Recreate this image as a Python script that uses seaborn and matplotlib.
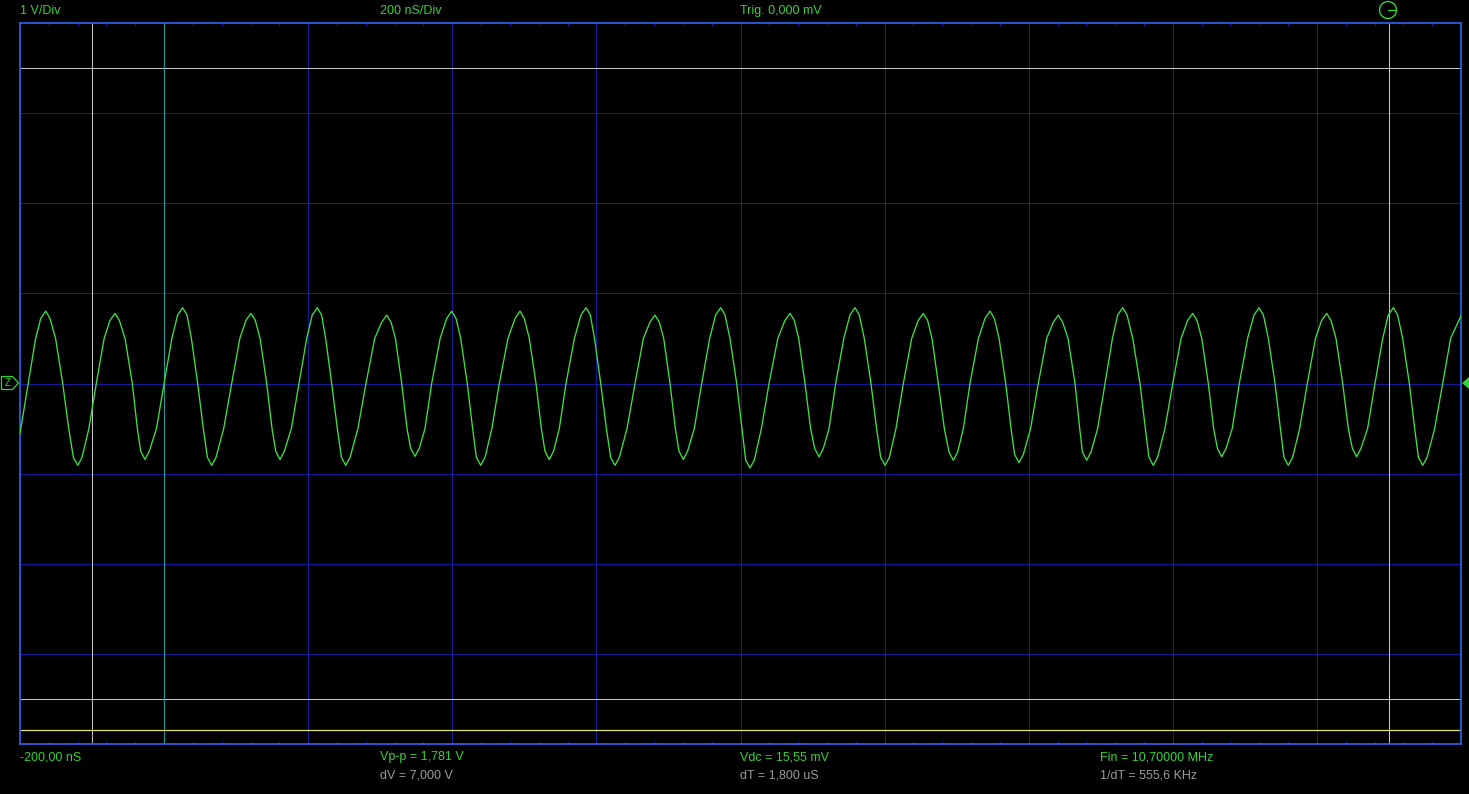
import numpy as np
import pandas as pd
import matplotlib
matplotlib.use("Agg")
import matplotlib.pyplot as plt
import seaborn as sns
from matplotlib.patches import Circle, Polygon
from matplotlib.ticker import MultipleLocator

# ---------------- data (read from the screen) ----------------
# time axis: 200 ns/div, 10 divisions starting at -200 ns ; vertical: 1 V/div, 8 divisions
x_range_ns = [-200, 1800]
y_range_v = [-4, 4]

# trace key points (ns, V)
start_t, start_v = [-200.0], [-0.556]
end_t, end_v = [1800.0], [0.752]
zero_t = [-188.5, -140.7, -94.1, -44.1, 0.0, 46.6, 93.8, 142.4, 187.2, 232.6,
          280.2, 329.8, 371.4, 420.8, 465.2, 516.2, 557.8, 606.0, 653.6, 702.2,
          746.1, 794.7, 839.6, 889.5, 932.1, 981.1, 1026.0, 1074.5, 1118.5, 1168.1,
          1213.3, 1264.3, 1305.9, 1354.5, 1399.9, 1449.3, 1492.3, 1541.9, 1586.7,
          1635.8, 1680.6, 1728.3, 1774.6]
peak_t = [-164.3, -68.1, 25.8, 120.6, 212.6, 309.0, 399.2, 494.0, 585.6, 681.3,
          772.5, 868.7, 958.9, 1053.7, 1146.3, 1241.1, 1330.5, 1427.6, 1519.7,
          1613.6, 1706.1]
peak_v = [0.803, 0.778, 0.841, 0.778, 0.841, 0.759, 0.803, 0.803, 0.841, 0.759,
          0.841, 0.778, 0.841, 0.778, 0.803, 0.759, 0.841, 0.778, 0.841, 0.778, 0.841]
trough_t = [-119.9, -26.5, 66.1, 160.9, 252.1, 348.2, 439.4, 534.6, 625.8, 720.6,
            813.2, 909.0, 1000.6, 1095.4, 1186.5, 1280.5, 1372.9, 1467.9, 1560.3,
            1655.2, 1746.9]
trough_v = [-0.908, -0.844, -0.908, -0.844, -0.908, -0.808, -0.908, -0.844, -0.908,
            -0.844, -0.937, -0.814, -0.908, -0.852, -0.878, -0.852, -0.908, -0.814,
            -0.908, -0.814, -0.908]
# times where the trace passes +0.5 V and -0.5 V
half_hi_t = [-178.3, -150.6, -83.2, -54.2, 10.8, 37.9, 105.1, 133.2, 197.9, 224.2,
             292.3, 321.1, 383.1, 411.7, 477.3, 506.9, 569.5, 597.4, 665.2, 693.4,
             757.2, 785.4, 851.8, 880.8, 943.4, 971.8, 1037.6, 1065.8, 1130.2, 1158.9,
             1225.0, 1254.6, 1316.2, 1344.4, 1411.5, 1440.2, 1503.8, 1532.6, 1598.0,
             1626.5, 1691.3, 1719.0, 1785.6]
half_lo_t = [-132.4, -104.4, -37.1, -10.6, 54.4, 82.7, 149.8, 176.7, 240.4, 269.0,
             337.2, 362.1, 428.2, 454.9, 523.6, 548.5, 613.9, 642.5, 709.6, 735.9,
             802.1, 829.0, 897.3, 922.9, 988.9, 1015.8, 1082.9, 1109.3, 1175.5, 1202.6,
             1270.8, 1295.7, 1361.9, 1389.1, 1456.7, 1482.5, 1549.3, 1576.1, 1643.6,
             1670.4, 1735.7, 1763.5]
half_level_v = 0.5
# shoulder points near the crests (rounded tops)
peak_shoulder_t = [-171.3, -158.3, -75.1, -62.1, 18.8, 31.8, 113.6, 126.6, 205.6, 218.6,
                   302.0, 315.0, 392.2, 405.2, 487.0, 500.0, 578.6, 591.6, 674.3, 687.3,
                   765.5, 778.5, 861.7, 874.7, 951.9, 964.9, 1046.7, 1059.7, 1139.3, 1152.3,
                   1234.1, 1247.1, 1323.5, 1336.5, 1420.6, 1433.6, 1512.7, 1525.7,
                   1606.6, 1619.6, 1699.1, 1712.1]
peak_shoulder_v = [0.72, 0.72, 0.70, 0.70, 0.76, 0.76, 0.70, 0.70, 0.76, 0.76,
                   0.68, 0.68, 0.72, 0.72, 0.72, 0.72, 0.76, 0.76, 0.68, 0.68,
                   0.76, 0.76, 0.70, 0.70, 0.76, 0.76, 0.70, 0.70, 0.72, 0.72,
                   0.68, 0.68, 0.76, 0.76, 0.70, 0.70, 0.76, 0.76, 0.70, 0.70, 0.76, 0.76]
trough_shoulder_t = [-125.9, -113.9, -32.5, -20.5, 60.1, 72.1, 154.9, 166.9, 246.1, 258.1,
                     342.2, 354.2, 433.4, 445.4, 528.6, 540.6, 619.8, 631.8, 714.6, 726.6,
                     807.2, 819.2, 903.0, 915.0, 994.6, 1006.6, 1089.4, 1101.4, 1180.5, 1192.5,
                     1274.5, 1286.5, 1366.9, 1378.9, 1461.9, 1473.9, 1554.3, 1566.3,
                     1649.2, 1661.2, 1740.9, 1752.9]
trough_shoulder_v = [-0.82, -0.82, -0.75, -0.75, -0.82, -0.82, -0.75, -0.75, -0.82, -0.82,
                     -0.72, -0.72, -0.82, -0.82, -0.75, -0.75, -0.82, -0.82, -0.75, -0.75,
                     -0.85, -0.85, -0.72, -0.72, -0.82, -0.82, -0.76, -0.76, -0.79, -0.79,
                     -0.76, -0.76, -0.82, -0.82, -0.72, -0.72, -0.82, -0.82, -0.72, -0.72,
                     -0.82, -0.82]

# cursors
cursor_t = [-100.0, 1700.0]      # white vertical cursors (dT = 1.8 us)
cursor_v = [3.5, -3.5]           # white horizontal cursors (dV = 7 V)
trigger_t = 0.0                  # cyan trigger position
ground_v = -3.84                 # yellow reference line

top_labels = ["1 V/Div", "200 nS/Div", "Trig. 0,000 mV"]
bottom_green = ["-200,00 nS", "Vp-p = 1,781 V", "Vdc = 15,55 mV", "Fin = 10,70000 MHz"]
bottom_gray = ["dV = 7,000 V", "dT = 1,800 uS", "1/dT = 555,6 KHz"]

# ---------------- styling ----------------
W, H = 1469, 794
GREEN = "#3fe03f"
TXT_GREEN = "#36d236"
GRAY_TXT = "#9a9a9a"
GRID = "#18189a"
BORDER = "#2c5ee0"
CURSOR = "#c4c4c4"
CYAN = "#1a9c9c"
YELLOW = "#e4e464"

sns.set_style("dark", {"axes.facecolor": "black", "figure.facecolor": "black"})
plt.rcParams["font.family"] = ["Liberation Sans", "DejaVu Sans"]

fig = plt.figure(figsize=(W / 100, H / 100), dpi=100, facecolor="black")
ax = fig.add_axes([20 / W, 1 - 744 / H, 1441 / W, 721 / H])
ax.set_facecolor("black")

# build the trace from the read points
df = pd.DataFrame({
    "t": start_t + zero_t + peak_t + trough_t + half_hi_t + half_lo_t
         + peak_shoulder_t + trough_shoulder_t + end_t,
    "v": start_v + [0.0] * len(zero_t) + peak_v + trough_v
         + [half_level_v] * len(half_hi_t) + [-half_level_v] * len(half_lo_t)
         + peak_shoulder_v + trough_shoulder_v + end_v,
}).sort_values("t")

# grid (one line per division, snapped to pixels)
ax.set_xlim(*x_range_ns)
ax.set_ylim(*y_range_v)
xdiv = np.arange(x_range_ns[0], x_range_ns[1] + 1, 200)
ydiv = np.arange(y_range_v[0], y_range_v[1] + 1, 1)
ax.set_xticks(xdiv)
ax.set_yticks(ydiv)
ax.grid(False)
for xv in xdiv[1:-1]:
    ln = ax.axvline(xv, color=GRID, lw=0.75, zorder=0.5)
    ln.set_snap(True)
for yv in ydiv[1:-1]:
    ln = ax.axhline(yv, color=GRID, lw=0.75, zorder=0.5)
    ln.set_snap(True)
ax.tick_params(which="major", length=0, labelbottom=False, labelleft=False)
ax.xaxis.set_minor_locator(MultipleLocator(40))
ax.tick_params(which="minor", direction="in", length=2.5, width=0.7, color=GRID,
               top=True, bottom=True, left=False, right=False)
for s in ax.spines.values():
    s.set_color(BORDER)
    s.set_linewidth(1.3)
    s.set_visible(True)

# cursors
for t in cursor_t:
    ax.axvline(t, color=CURSOR, lw=0.75, zorder=2)
for v in cursor_v:
    ax.axhline(v, color=CURSOR, lw=0.75, zorder=2)
ax.axvline(trigger_t, color=CYAN, lw=0.75, zorder=2)
ax.axhline(ground_v, color=YELLOW, lw=0.9, zorder=2)

# trace
sns.lineplot(data=df, x="t", y="v", ax=ax, color=GREEN, lw=0.95, estimator=None,
             sort=False, zorder=3)
ax.set_xlabel("")
ax.set_ylabel("")

# ---------------- texts ----------------
def ftxt(x, y, s, c):
    fig.text(x / W, 1 - y / H, s, color=c, fontsize=9, ha="left", va="center")

for xpx, s in zip([20, 380, 740], top_labels):
    ftxt(xpx, 11, s, TXT_GREEN)
for xpx, s in zip([20, 380, 740, 1100], bottom_green):
    ftxt(xpx, 757, s, TXT_GREEN)
for xpx, s in zip([380, 740, 1100], bottom_gray):
    ftxt(xpx, 775, s, GRAY_TXT)

# ---------------- screen markers (overlay in pixel space) ----------------
ov = fig.add_axes([0, 0, 1, 1])
ov.set_xlim(0, W)
ov.set_ylim(H, 0)
ov.axis("off")
ov.patch.set_alpha(0)
# trigger time marker
ov.add_patch(Circle((1388, 10), 8.5, fill=False, ec=TXT_GREEN, lw=1.0))
ov.plot([1388, 1396.5], [10, 10], color=TXT_GREEN, lw=1.0)
# ground marker on the left
ov.add_patch(Polygon([[1.5, 376.5], [12.5, 376.5], [18.5, 383], [12.5, 389.5], [1.5, 389.5]],
                     closed=True, fill=False, ec=TXT_GREEN, lw=0.9))
ov.text(7.5, 383.3, "Z", color=TXT_GREEN, fontsize=7, ha="center", va="center")
# trigger level marker on the right
ov.add_patch(Polygon([[1462, 383], [1469, 377], [1469, 389]], closed=True,
                     fc=TXT_GREEN, ec="none"))

fig.savefig("out.png", dpi=100, facecolor="black")
